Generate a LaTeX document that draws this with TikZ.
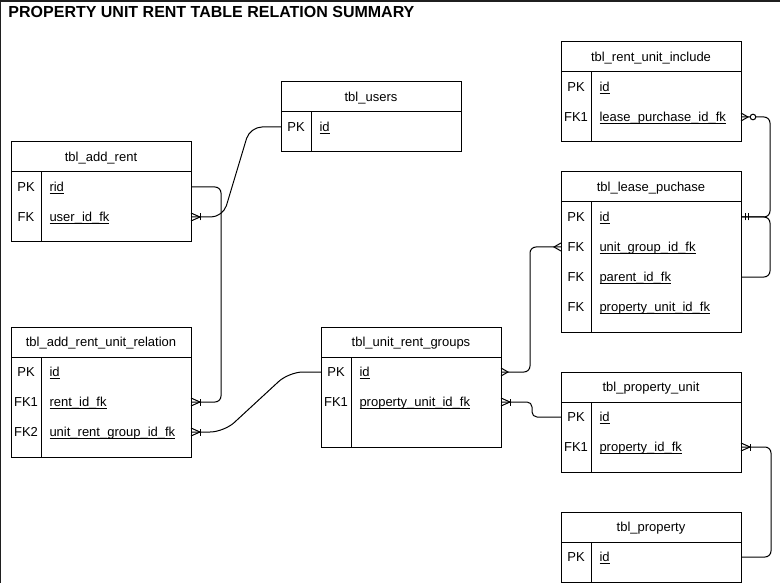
\documentclass[tikz,border=0pt]{standalone}
\usepackage{fontspec}
\setmainfont{Liberation Sans}
\newcommand{\ulfield}[1]{\underline{\smash{#1}}}

\begin{document}
\begin{tikzpicture}[x=1pt, y=-1pt, line width=1pt,
    every node/.style={font=\fontsize{13}{15}\selectfont},
    tblhead/.style={draw, minimum width=180pt, minimum height=30pt, inner sep=0pt, outer sep=0pt, text height=9.3pt, text depth=0pt},
    tblbody/.style={draw, minimum width=180pt, inner sep=0pt, outer sep=0pt, anchor=north},
    keycell/.style={inner sep=0pt, text height=9.3pt, text depth=0pt},
    fieldcell/.style={keycell, anchor=west},
    link/.style={draw, rounded corners=6pt},
    crowbar/.pic={\draw (0,4) -- (9,0) -- (0,-4); \draw (9,3.5) -- (9,-3.5);},
    crowonly/.pic={\draw (0,4) -- (7,0) -- (0,-4);},
    crowring/.pic={\draw (0,4) -- (7,0) -- (0,-4); \draw[fill=white] (12,0) circle[radius=2.8pt];},
    barbar/.pic={\draw (4,3.5) -- (4,-3.5); \draw (7,3.5) -- (7,-3.5);}]

  \useasboundingbox (0,0) rectangle (780,583);
  \draw[black!88] (0.75,583) -- (0.75,0);
  \draw[black!88, line width=2.5pt] (0,1.25) -- (780,1.25);

  \node[anchor=base west, inner sep=0pt, font=\bfseries\fontsize{16}{19}\selectfont] (title) at (8,18) {PROPERTY UNIT RENT TABLE RELATION SUMMARY};

  % tbl_users
  \node[tblhead] (users) at (371,97) {tbl\_users};
  \node[tblbody, minimum height=40pt] (users-b) at (users.south) {};
  \draw ([xshift=30pt]users-b.north west) -- ([xshift=30pt]users-b.south west);
  \node[keycell] (users-pk) at (296,127) {PK};
  \node[fieldcell] (users-id) at (319,127) {\ulfield{id}};

  % tbl_add_rent
  \node[tblhead] (addrent) at (101,157) {tbl\_add\_rent};
  \node[tblbody, minimum height=70pt] (addrent-b) at (addrent.south) {};
  \draw ([xshift=30pt]addrent-b.north west) -- ([xshift=30pt]addrent-b.south west);
  \node[keycell] (addrent-pk) at (26,187) {PK};
  \node[fieldcell] (addrent-rid) at (49,187) {\ulfield{rid}};
  \node[keycell] (addrent-fk) at (26,217) {FK};
  \node[fieldcell] (addrent-user) at (49,217) {\ulfield{user\_id\_fk}};

  % tbl_add_rent_unit_relation
  \node[tblhead] (arur) at (101,342) {tbl\_add\_rent\_unit\_relation};
  \node[tblbody, minimum height=100pt] (arur-b) at (arur.south) {};
  \draw ([xshift=30pt]arur-b.north west) -- ([xshift=30pt]arur-b.south west);
  \node[keycell] (arur-pk) at (26,372) {PK};
  \node[fieldcell] (arur-id) at (49,372) {\ulfield{id}};
  \node[keycell] (arur-fk1) at (26,402) {FK1};
  \node[fieldcell] (arur-rent) at (49,402) {\ulfield{rent\_id\_fk}};
  \node[keycell] (arur-fk2) at (26,432) {FK2};
  \node[fieldcell] (arur-group) at (49,432) {\ulfield{unit\_rent\_group\_id\_fk}};

  % tbl_unit_rent_groups
  \node[tblhead] (urg) at (411,342) {tbl\_unit\_rent\_groups};
  \node[tblbody, minimum height=90pt] (urg-b) at (urg.south) {};
  \draw ([xshift=30pt]urg-b.north west) -- ([xshift=30pt]urg-b.south west);
  \node[keycell] (urg-pk) at (336,372) {PK};
  \node[fieldcell] (urg-id) at (359,372) {\ulfield{id}};
  \node[keycell] (urg-fk1) at (336,402) {FK1};
  \node[fieldcell] (urg-pu) at (359,402) {\ulfield{property\_unit\_id\_fk}};

  % tbl_rent_unit_include
  \node[tblhead] (rui) at (651,57) {tbl\_rent\_unit\_include};
  \node[tblbody, minimum height=70pt] (rui-b) at (rui.south) {};
  \draw ([xshift=30pt]rui-b.north west) -- ([xshift=30pt]rui-b.south west);
  \node[keycell] (rui-pk) at (576,87) {PK};
  \node[fieldcell] (rui-id) at (599,87) {\ulfield{id}};
  \node[keycell] (rui-fk1) at (576,117) {FK1};
  \node[fieldcell] (rui-lp) at (599,117) {\ulfield{lease\_purchase\_id\_fk}};

  % tbl_lease_puchase
  \node[tblhead] (lp) at (651,187) {tbl\_lease\_puchase};
  \node[tblbody, minimum height=130pt] (lp-b) at (lp.south) {};
  \draw ([xshift=30pt]lp-b.north west) -- ([xshift=30pt]lp-b.south west);
  \node[keycell] (lp-pk) at (576,217) {PK};
  \node[fieldcell] (lp-id) at (599,217) {\ulfield{id}};
  \node[keycell] (lp-fk1) at (576,247) {FK};
  \node[fieldcell] (lp-group) at (599,247) {\ulfield{unit\_group\_id\_fk}};
  \node[keycell] (lp-fk2) at (576,277) {FK};
  \node[fieldcell] (lp-parent) at (599,277) {\ulfield{parent\_id\_fk}};
  \node[keycell] (lp-fk3) at (576,307) {FK};
  \node[fieldcell] (lp-pu) at (599,307) {\ulfield{property\_unit\_id\_fk}};

  % tbl_property_unit
  \node[tblhead] (pu) at (651,387) {tbl\_property\_unit};
  \node[tblbody, minimum height=70pt] (pu-b) at (pu.south) {};
  \draw ([xshift=30pt]pu-b.north west) -- ([xshift=30pt]pu-b.south west);
  \node[keycell] (pu-pk) at (576,417) {PK};
  \node[fieldcell] (pu-id) at (599,417) {\ulfield{id}};
  \node[keycell] (pu-fk1) at (576,447) {FK1};
  \node[fieldcell] (pu-prop) at (599,447) {\ulfield{property\_id\_fk}};

  % tbl_property
  \node[tblhead] (prop) at (651,527) {tbl\_property};
  \node[tblbody, minimum height=40pt] (prop-b) at (prop.south) {};
  \draw ([xshift=30pt]prop-b.north west) -- ([xshift=30pt]prop-b.south west);
  \node[keycell] (prop-pk) at (576,557) {PK};
  \node[fieldcell] (prop-id) at (599,557) {\ulfield{id}};

  % relations
  \draw[link, rounded corners=12pt] (users-b.west |- users-id) -- ++(-31,0)
    -- ([xshift=32pt]addrent-b.east |- addrent-user) -- (addrent-b.east |- addrent-user);
  \draw[link] (addrent-b.east |- addrent-rid) -- ++(30,0) |- (arur-b.east |- arur-rent);
  \draw[link, rounded corners=14pt] (urg-b.west |- urg-id) -- ++(-32,0)
    -- ([xshift=33pt]arur-b.east |- arur-group) -- (arur-b.east |- arur-group);
  \draw[link] (urg-b.east |- urg-id) -- ++(29,0) |- (lp-b.west |- lp-group);
  \draw[link, rounded corners=5pt] (urg-b.east |- urg-pu) -- ++(31,0) |- (pu-b.west |- pu-id);
  \draw[link] (prop-b.east |- prop-id) -- ++(30,0) |- (pu-b.east |- pu-prop);
  \draw[link] (lp-b.east |- lp-id) -- ++(29,0) |- (rui-b.east |- rui-lp);
  \draw[link] (lp-b.east |- lp-parent) -- ++(29,0) |- (lp-b.east |- lp-id);

  % line ends
  \pic at (addrent-b.east |- addrent-user) {crowbar};
  \pic at (arur-b.east |- arur-rent) {crowbar};
  \pic at (arur-b.east |- arur-group) {crowbar};
  \pic at (urg-b.east |- urg-id) {crowonly};
  \pic[rotate=180] at (lp-b.west |- lp-group) {crowonly};
  \pic at (urg-b.east |- urg-pu) {crowbar};
  \pic at (pu-b.east |- pu-prop) {crowbar};
  \pic at (lp-b.east |- lp-id) {barbar};
  \pic at (rui-b.east |- rui-lp) {crowring};

\end{tikzpicture}
\end{document}
